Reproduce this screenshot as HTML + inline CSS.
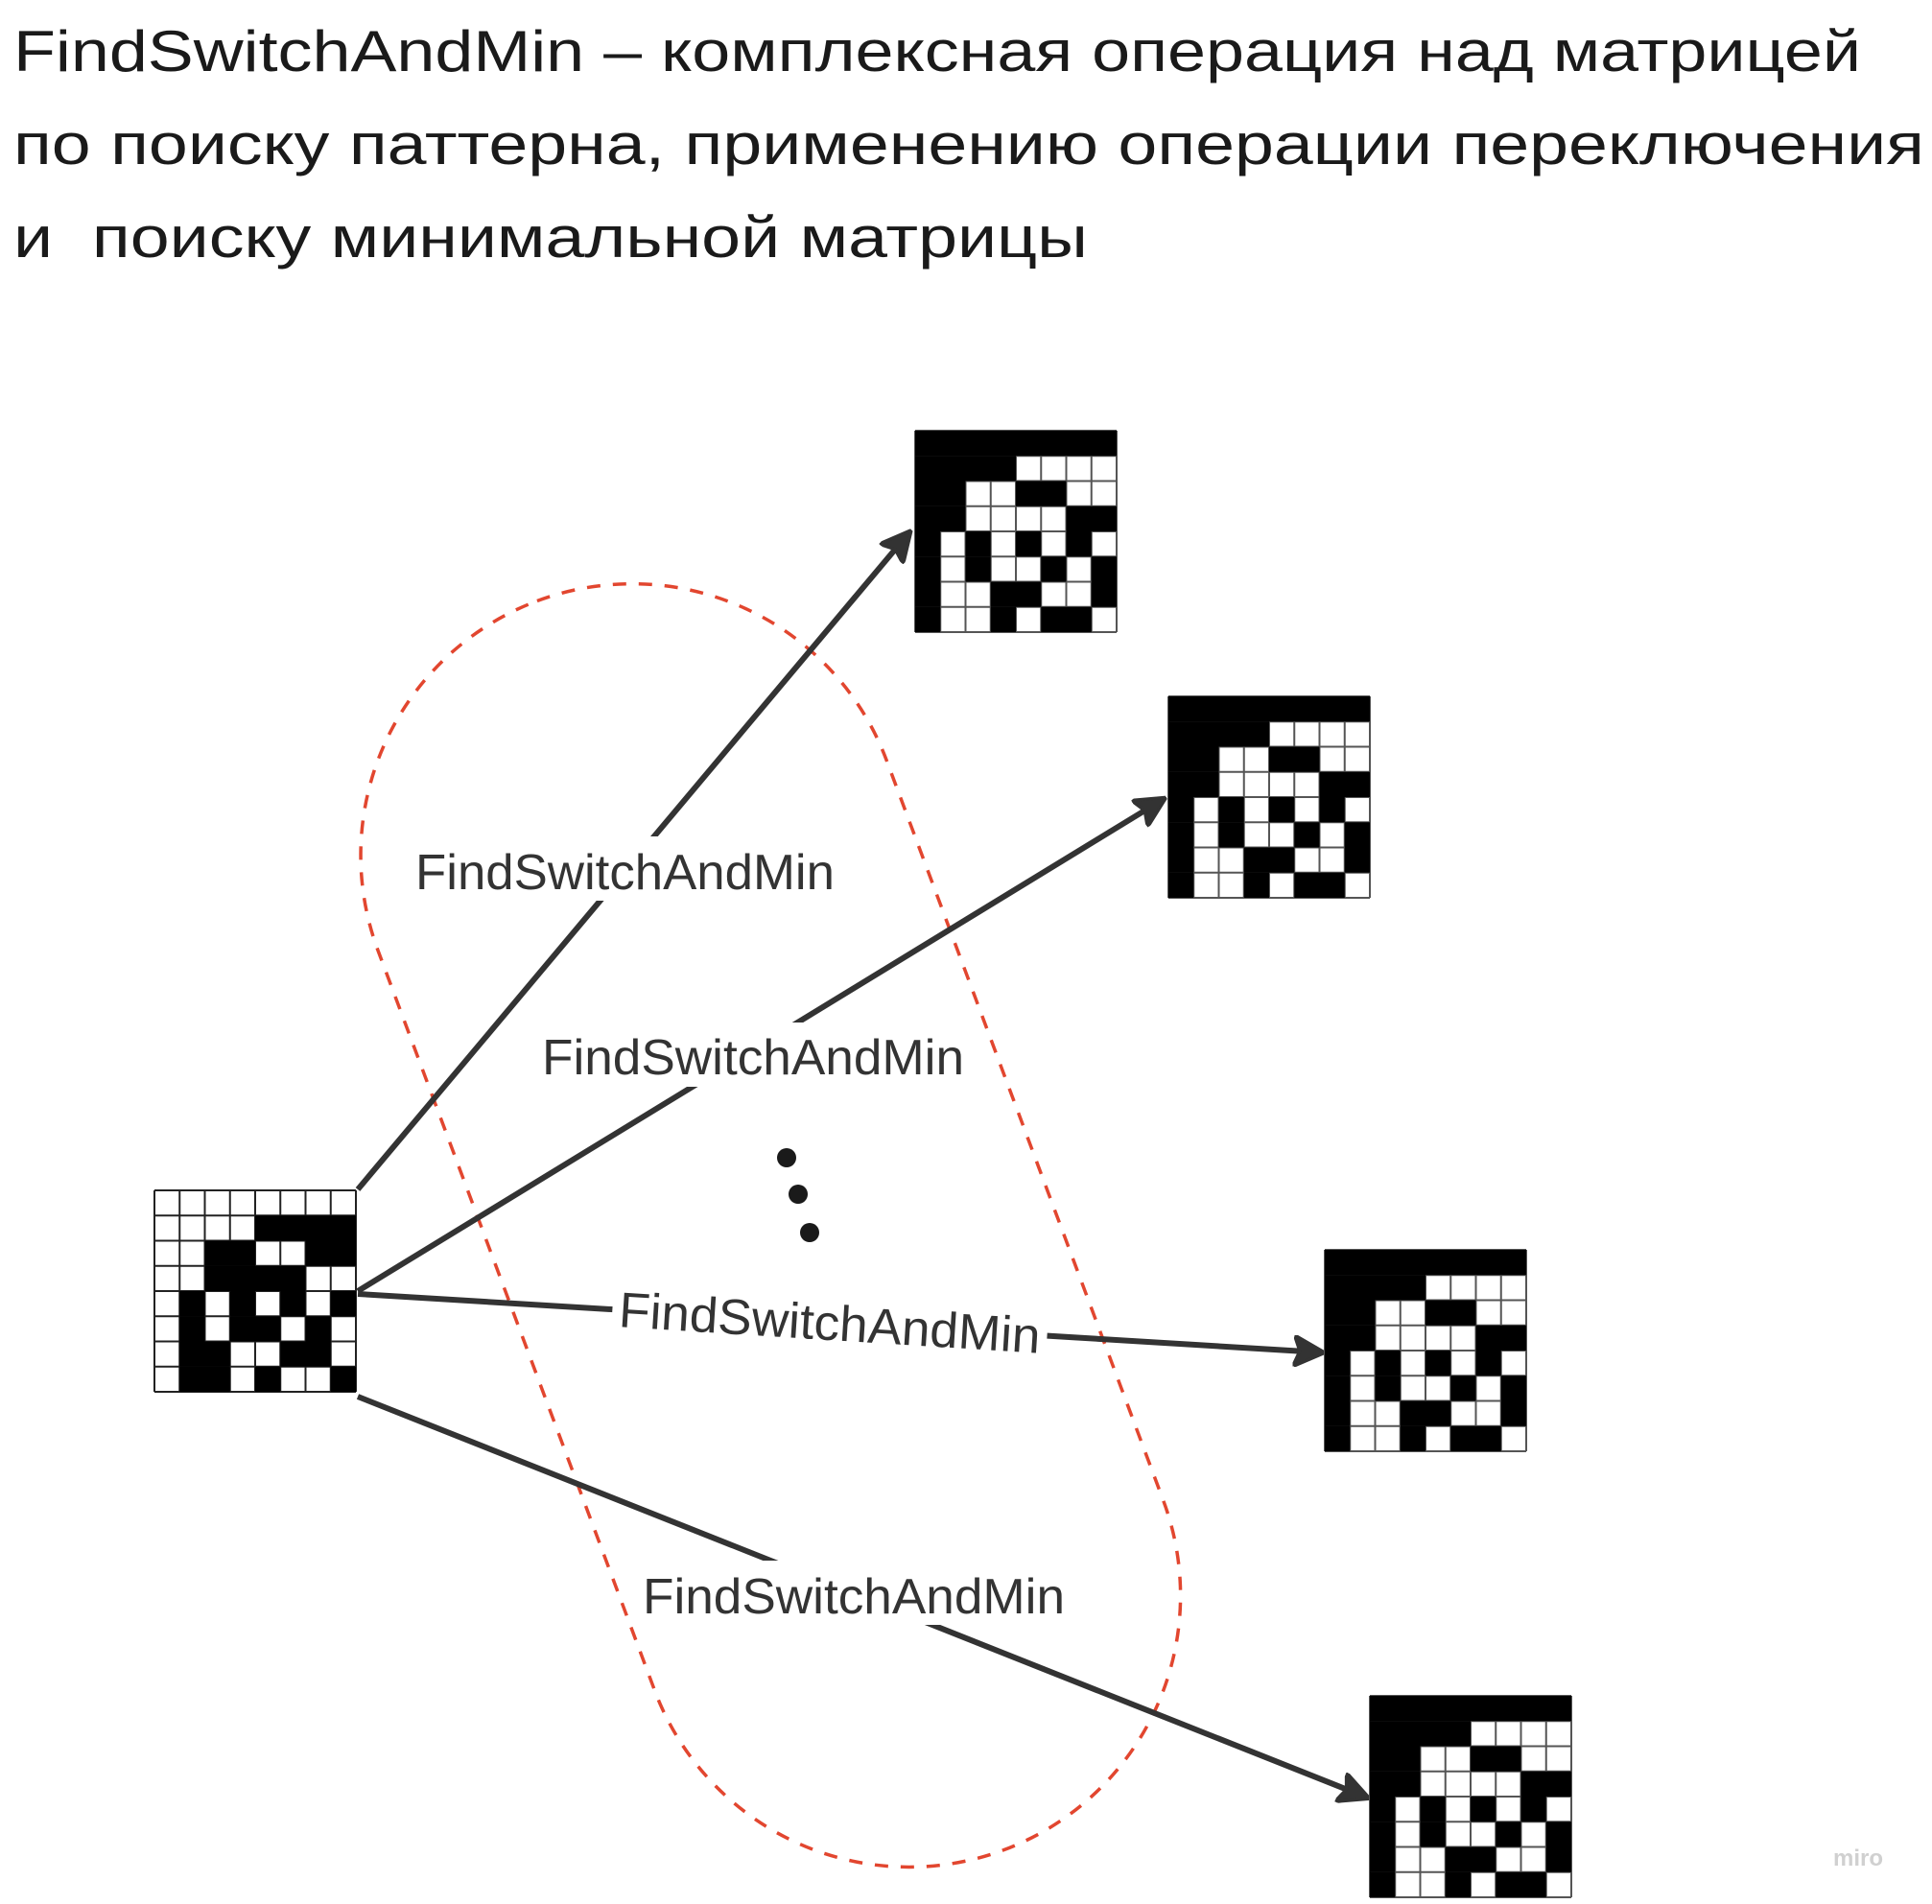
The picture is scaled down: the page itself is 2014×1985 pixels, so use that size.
<!DOCTYPE html>
<html><head><meta charset="utf-8"><style>html,body{margin:0;padding:0;background:#fff}svg{display:block}</style></head>
<body>
<svg width="2014" height="1985" viewBox="0 0 2014 1985" xmlns="http://www.w3.org/2000/svg">
<defs>
<g id="cells">
<rect x="105" y="26.25" width="105" height="26.25"/>
<rect x="52.5" y="52.5" width="52.5" height="26.25"/><rect x="157.5" y="52.5" width="52.5" height="26.25"/>
<rect x="52.5" y="78.75" width="105" height="26.25"/>
<rect x="26.25" y="105" width="26.25" height="26.25"/><rect x="78.75" y="105" width="26.25" height="26.25"/><rect x="131.25" y="105" width="26.25" height="26.25"/><rect x="183.75" y="105" width="26.25" height="26.25"/>
<rect x="26.25" y="131.25" width="26.25" height="26.25"/><rect x="78.75" y="131.25" width="52.5" height="26.25"/><rect x="157.5" y="131.25" width="26.25" height="26.25"/>
<rect x="26.25" y="157.5" width="52.5" height="26.25"/><rect x="131.25" y="157.5" width="52.5" height="26.25"/>
<rect x="26.25" y="183.75" width="52.5" height="26.25"/><rect x="105" y="183.75" width="26.25" height="26.25"/><rect x="183.75" y="183.75" width="26.25" height="26.25"/>
</g>
<g id="comp">
<rect x="0" y="0" width="210" height="26.25"/>
<rect x="0" y="26.25" width="105" height="26.25"/>
<rect x="0" y="52.5" width="52.5" height="26.25"/><rect x="105" y="52.5" width="52.5" height="26.25"/>
<rect x="0" y="78.75" width="52.5" height="26.25"/><rect x="157.5" y="78.75" width="52.5" height="26.25"/>
<rect x="0" y="105" width="26.25" height="26.25"/><rect x="52.5" y="105" width="26.25" height="26.25"/><rect x="105" y="105" width="26.25" height="26.25"/><rect x="157.5" y="105" width="26.25" height="26.25"/>
<rect x="0" y="131.25" width="26.25" height="26.25"/><rect x="52.5" y="131.25" width="26.25" height="26.25"/><rect x="131.25" y="131.25" width="26.25" height="26.25"/><rect x="183.75" y="131.25" width="26.25" height="26.25"/>
<rect x="0" y="157.5" width="26.25" height="26.25"/><rect x="78.75" y="157.5" width="52.5" height="26.25"/><rect x="183.75" y="157.5" width="26.25" height="26.25"/>
<rect x="0" y="183.75" width="26.25" height="26.25"/><rect x="78.75" y="183.75" width="26.25" height="26.25"/><rect x="131.25" y="183.75" width="52.5" height="26.25"/>
</g>
<path id="grid" d="M0 0H210M0 26.25H210M0 52.5H210M0 78.75H210M0 105H210M0 131.25H210M0 157.5H210M0 183.75H210M0 210H210M0 0V210M26.25 0V210M52.5 0V210M78.75 0V210M105 0V210M131.25 0V210M157.5 0V210M183.75 0V210M210 0V210"/>
<g id="rm">
<rect x="0" y="0" width="210" height="210" fill="#fff"/>
<use href="#grid" stroke="#555" stroke-width="2" fill="none"/>
<use href="#comp" fill="#000"/>
</g>
<g id="lm">
<rect x="0" y="0" width="210" height="210" fill="#fff"/>
<use href="#grid" stroke="#222" stroke-width="2" fill="none"/>
<use href="#cells" fill="#000"/>
</g>
<marker id="ah" viewBox="0 0 10 10" refX="9" refY="5" markerWidth="5.5" markerHeight="5.5" orient="auto" markerUnits="strokeWidth">
<path d="M0 0L10 5L0 10L2 5Z" fill="#333" stroke="#333" stroke-width="1" stroke-linejoin="round"/>
</marker>
</defs>

<g font-family="Liberation Sans, sans-serif" font-size="60" fill="#1a1a1a">
<text x="14" y="74" textLength="1926" lengthAdjust="spacingAndGlyphs">FindSwitchAndMin – комплексная операция над матрицей</text>
<text x="14" y="171" textLength="1992" lengthAdjust="spacingAndGlyphs">по поиску паттерна, применению операции переключения</text>
<text x="14" y="268" textLength="1120" lengthAdjust="spacingAndGlyphs">и&#160; поиску минимальной матрицы</text>
</g>

<rect x="520.5" y="582.5" width="566" height="1390" rx="283" ry="283" transform="rotate(-20.5 803.5 1278)" fill="none" stroke="#e2462f" stroke-width="3.5" stroke-dasharray="14 13"/>

<g stroke="#333" stroke-width="6" fill="none" marker-end="url(#ah)">
<line x1="373" y1="1240" x2="948" y2="555"/>
<line x1="373" y1="1346" x2="1213" y2="833"/>
<line x1="373" y1="1349" x2="1378" y2="1410"/>
<line x1="373" y1="1456" x2="1425" y2="1874"/>
</g>

<g font-family="Liberation Sans, sans-serif" font-size="52" fill="#333">
<rect x="426" y="872" width="450" height="67" fill="#fff"/>
<text x="433" y="927" textLength="437" lengthAdjust="spacingAndGlyphs">FindSwitchAndMin</text>
<rect x="558" y="1066" width="454" height="67" fill="#fff"/>
<text x="565" y="1120" textLength="440" lengthAdjust="spacingAndGlyphs">FindSwitchAndMin</text>
<g transform="rotate(3.6 865 1378)">
<rect x="638" y="1345" width="454" height="67" fill="#fff"/>
<text x="645" y="1397" textLength="440" lengthAdjust="spacingAndGlyphs">FindSwitchAndMin</text>
</g>
<rect x="664" y="1627" width="454" height="67" fill="#fff"/>
<text x="670" y="1682" textLength="440" lengthAdjust="spacingAndGlyphs">FindSwitchAndMin</text>
</g>

<g fill="#1a1a1a">
<circle cx="820" cy="1207" r="10"/>
<circle cx="832" cy="1245" r="10"/>
<circle cx="844" cy="1285" r="10"/>
</g>

<use href="#lm" x="161" y="1241"/>
<use href="#rm" x="954" y="449"/>
<use href="#rm" x="1218" y="726"/>
<use href="#rm" x="1381" y="1303"/>
<use href="#rm" x="1428" y="1768"/>

<text x="1911" y="1945" font-family="Liberation Sans, sans-serif" font-size="24" fill="#d0d0d0" font-weight="bold">miro</text>
</svg>
</body></html>
